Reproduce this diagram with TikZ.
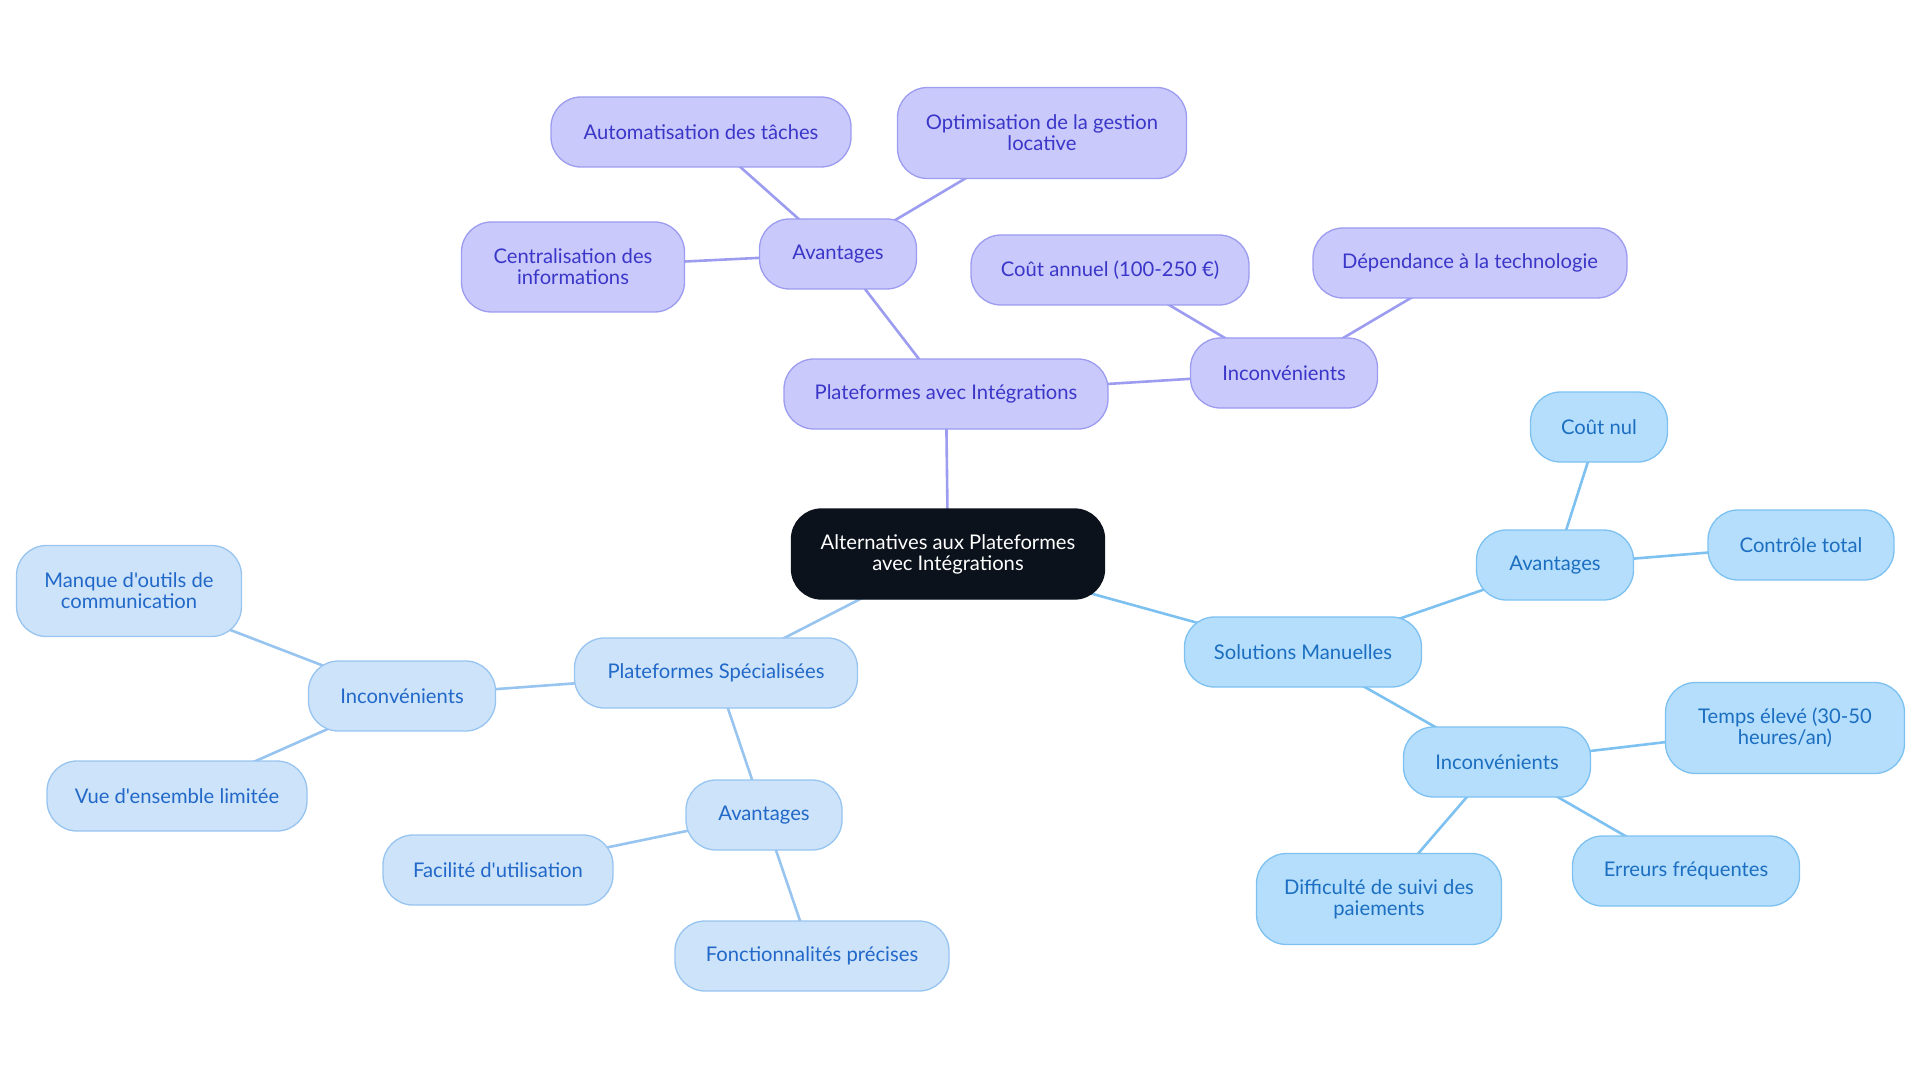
\documentclass[tikz,border=0pt]{standalone}
\usepackage{fontspec}
\setmainfont{Lato}[Ligatures=TeXOff]
\usetikzlibrary{backgrounds}
\definecolor{pfill}{HTML}{C9C9FB}
\definecolor{pline}{HTML}{9C9CF0}
\definecolor{ptext}{HTML}{3A36C8}
\definecolor{lfill}{HTML}{CDE3FA}
\definecolor{lline}{HTML}{98C4F0}
\definecolor{ltext}{HTML}{2168C8}
\definecolor{sfill}{HTML}{B4DEFC}
\definecolor{sline}{HTML}{7DC1F1}
\definecolor{stext}{HTML}{1B6EC0}
\definecolor{cfill}{HTML}{0C121C}
\tikzset{
  base/.style={rounded corners=30pt, inner sep=0pt, align=center, line width=1.3pt,
    font=\fontsize{20.2}{21}\selectfont},
  pnode/.style={base, fill=pfill, draw=pline, text=ptext},
  lnode/.style={base, fill=lfill, draw=lline, text=ltext},
  snode/.style={base, fill=sfill, draw=sline, text=stext},
  cnode/.style={base, fill=cfill, draw=cfill, text=white},
  pedge/.style={draw=pline, line width=2.6pt},
  ledge/.style={draw=lline, line width=2.6pt},
  sedge/.style={draw=sline, line width=2.6pt},
}
\begin{document}
\begin{tikzpicture}[x=1pt,y=-1pt]
\useasboundingbox (0,0) rectangle (1920,1083);
% center
\node[cnode, minimum width=313pt, minimum height=90pt] (c) at (948,554) {Alternatives aux Plateformes\\avec Intégrations};
% purple branch
\node[pnode, minimum width=324pt, minimum height=70pt] (pi) at (946,394) {Plateformes avec Intégrations};
\node[pnode, minimum width=157pt, minimum height=70pt] (pa) at (838,254) {Avantages};
\node[pnode, minimum width=300pt, minimum height=70pt] (pa1) at (701,132) {Automatisation des tâches};
\node[pnode, minimum width=289pt, minimum height=91pt] (pa2) at (1042,133) {Optimisation de la gestion\\locative};
\node[pnode, minimum width=223pt, minimum height=90pt] (pa3) at (573,267) {Centralisation des\\informations};
\node[pnode, minimum width=187pt, minimum height=70pt] (pn) at (1284,373) {Inconvénients};
\node[pnode, minimum width=278pt, minimum height=70pt] (pn1) at (1110,270) {Coût annuel (100-250 €)};
\node[pnode, minimum width=314pt, minimum height=70pt] (pn2) at (1470,263) {Dépendance à la technologie};
% sky branch
\node[snode, minimum width=237pt, minimum height=70pt] (sm) at (1303,652) {Solutions Manuelles};
\node[snode, minimum width=157pt, minimum height=70pt] (sa) at (1555,565) {Avantages};
\node[snode, minimum width=137pt, minimum height=70pt] (sa1) at (1599,427) {Coût nul};
\node[snode, minimum width=186pt, minimum height=70pt] (sa2) at (1801,545) {Contrôle total};
\node[snode, minimum width=187pt, minimum height=70pt] (sn) at (1497,762) {Inconvénients};
\node[snode, minimum width=239pt, minimum height=91pt] (sn1) at (1785,728) {Temps élevé (30-50\\heures/an)};
\node[snode, minimum width=227pt, minimum height=70pt] (sn2) at (1686,871) {Erreurs fréquentes};
\node[snode, minimum width=245pt, minimum height=91pt] (sn3) at (1379,899) {Difficulté de suivi des\\paiements};
% light branch
\node[lnode, minimum width=283pt, minimum height=70pt] (ls) at (716,673) {Plateformes Spécialisées};
\node[lnode, minimum width=187pt, minimum height=70pt] (ln) at (402,696) {Inconvénients};
\node[lnode, minimum width=225pt, minimum height=91pt] (ln1) at (129,591) {Manque d'outils de\\communication};
\node[lnode, minimum width=260pt, minimum height=70pt] (ln2) at (177,796) {Vue d'ensemble limitée};
\node[lnode, minimum width=156pt, minimum height=70pt] (la) at (764,815) {Avantages};
\node[lnode, minimum width=230pt, minimum height=70pt] (la1) at (498,870) {Facilité d'utilisation};
\node[lnode, minimum width=274pt, minimum height=70pt] (la2) at (812,956) {Fonctionnalités précises};
\begin{scope}[on background layer]
\draw[pedge] (c.center) -- (pi.center);
\draw[pedge] (pi.center) -- (pa.center);
\draw[pedge] (pa.center) -- (pa1.center);
\draw[pedge] (pa.center) -- (pa2.center);
\draw[pedge] (pa.center) -- (pa3.center);
\draw[pedge] (pi.center) -- (pn.center);
\draw[pedge] (pn.center) -- (pn1.center);
\draw[pedge] (pn.center) -- (pn2.center);
\draw[sedge] (c.center) -- (sm.center);
\draw[sedge] (sm.center) -- (sa.center);
\draw[sedge] (sa.center) -- (sa1.center);
\draw[sedge] (sa.center) -- (sa2.center);
\draw[sedge] (sm.center) -- (sn.center);
\draw[sedge] (sn.center) -- (sn1.center);
\draw[sedge] (sn.center) -- (sn2.center);
\draw[sedge] (sn.center) -- (sn3.center);
\draw[ledge] (c.center) -- (ls.center);
\draw[ledge] (ls.center) -- (ln.center);
\draw[ledge] (ln.center) -- (ln1.center);
\draw[ledge] (ln.center) -- (ln2.center);
\draw[ledge] (ls.center) -- (la.center);
\draw[ledge] (la.center) -- (la1.center);
\draw[ledge] (la.center) -- (la2.center);
\end{scope}
\end{tikzpicture}
\end{document}
